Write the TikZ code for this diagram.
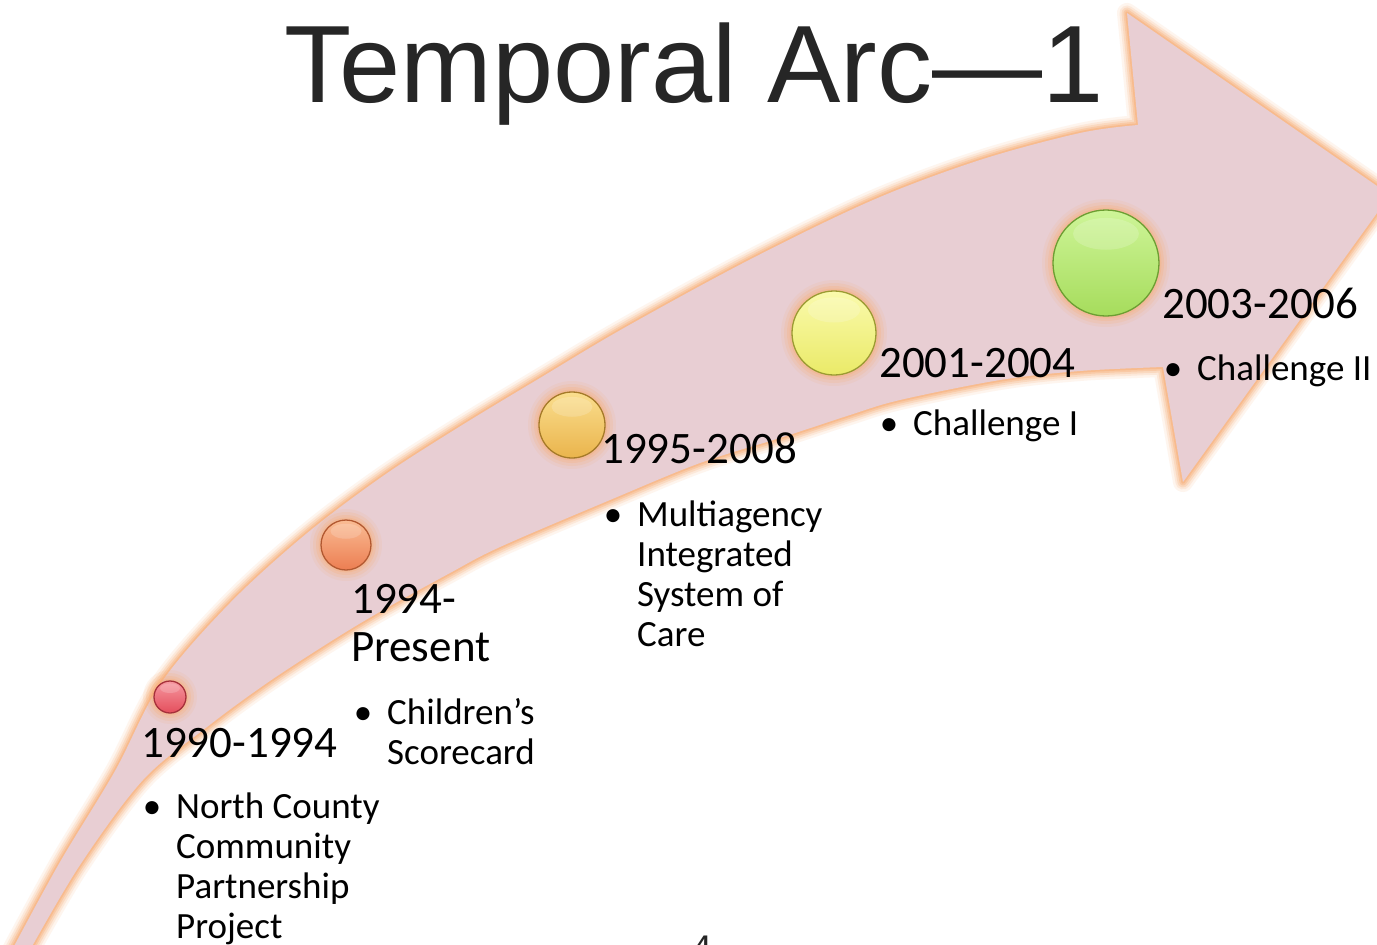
\documentclass[tikz,border=0pt]{standalone}
\usepackage{fontspec}
\setmainfont{Carlito}
\newfontfamily\titlefont{Liberation Sans}
\usetikzlibrary{calc}
\definecolor{arcpink}{RGB}{232,206,211}
\definecolor{arcglow}{RGB}{248,176,122}
\definecolor{inkgray}{RGB}{38,38,38}
\definecolor{redtop}{RGB}{246,152,160}\definecolor{redbase}{RGB}{228,78,92}\definecolor{redrim}{RGB}{165,48,58}
\definecolor{orgtop}{RGB}{250,188,148}\definecolor{orgbase}{RGB}{236,126,82}\definecolor{orgrim}{RGB}{178,88,48}
\definecolor{goldtop}{RGB}{250,222,142}\definecolor{goldbase}{RGB}{234,180,76}\definecolor{goldrim}{RGB}{165,122,40}
\definecolor{yeltop}{RGB}{250,250,172}\definecolor{yelbase}{RGB}{234,234,104}\definecolor{yelrim}{RGB}{155,155,50}
\definecolor{grntop}{RGB}{206,245,152}\definecolor{grnbase}{RGB}{166,220,92}\definecolor{grnrim}{RGB}{108,158,50}
% stacked lines, baseline on the first line
\newcommand\linesof[1]{\begin{tabular}[t]{@{}l@{}}#1\end{tabular}}
\newcommand\bul{\llap{\textbullet\hspace{15pt}}}
% glossy dot with soft glow: name, centre, radius, colour prefix
\newcommand\timedot[4]{%
  \foreach \g/\o in {11/0.12,8/0.18,5/0.25,2.5/0.35}
    \fill[arcglow,opacity=\o] (#2) circle[radius=#3+\g];
  \node[circle,inner sep=0pt,minimum size=2*#3,
        top color=#4top,bottom color=#4base,draw=#4rim,line width=1.3pt] (#1) at (#2) {};
  \fill[white,opacity=0.18] ($(#2)+(0,-0.55*#3)$) ellipse[x radius=0.62*#3,y radius=0.3*#3];
}
\begin{document}
\begin{tikzpicture}[x=1pt,y=-1pt,
  datelabel/.style={anchor=base west,inner sep=0pt,text=black,
    font=\fontsize{45}{48}\selectfont},
  itemtext/.style={anchor=base west,inner sep=0pt,text=black,
    font=\fontsize{37}{40}\selectfont},
  glowline/.style={draw=arcglow,line join=round}]
\clip (0,0) rectangle (1377,945);
\fill[white] (0,0) rectangle (1377,945);

% the rising arrow
\def\arcpath{(12,950)
  plot[smooth,tension=0.55] coordinates {(12,950) (60,862) (115,771) (161,683) (230,603) (306,534)
    (383,476) (459,427) (540,378) (624,328) (749,260) (873,200) (980,160) (1080,133) (1138,125)}
  -- (1127,13) -- (1390,195) -- (1183,482) -- (1163,367)
  -- plot[smooth,tension=0.55] coordinates {(1163,367) (1080,371) (1000,380) (900,400) (850,415)
    (783,437) (700,463) (610,500) (500,547) (450,573) (383,610) (333,640) (267,683) (207,727)
    (143,780) (80,865) (30,950)} -- cycle}
\foreach \w/\o in {20/0.12,15/0.18,11/0.26,7/0.38,3.5/0.55}
  \draw[glowline,line width=\w pt,opacity=\o] \arcpath;
\fill[arcpink] \arcpath;

% milestones along the arc
\timedot{d1}{170,697}{16}{red}
\timedot{d2}{346,545}{25}{org}
\timedot{d3}{572,425}{33}{gold}
\timedot{d4}{834,333}{42}{yel}
\timedot{d5}{1106,263}{53}{grn}

% dates
\node[datelabel] (y1) at (141,757) {1990-1994};
\node[datelabel] (y2) at (351,613) {\linesof{1994-\\Present}};
\node[datelabel] (y3) at (601,463) {1995-2008};
\node[datelabel] (y4) at (879,377) {2001-2004};
\node[datelabel] (y5) at (1162,318) {2003-2006};

% programmes
\node[itemtext] (b1) at (176,818) {\linesof{\bul North County\\Community\\Partnership\\Project}};
\node[itemtext] (b2) at (387,724) {\linesof{\bul Children’s\\Scorecard}};
\node[itemtext] (b3) at (637,526) {\linesof{\bul Multiagency\\Integrated\\System of\\Care}};
\node[itemtext] (b4) at (913,435) {\linesof{\bul Challenge I}};
\node[itemtext] (b5) at (1197,380) {\linesof{\bul Challenge II}};

% heading and page number
\node[anchor=base,inner sep=0pt,text=inkgray,font=\titlefont\fontsize{110}{110}\selectfont]
  (title) at (694,102) {Temporal Arc—1};
\node[anchor=north,inner sep=0pt,text=inkgray,font=\titlefont\bfseries\fontsize{24}{24}\selectfont]
  (pg) at (703,936) {4};
\end{tikzpicture}
\end{document}
